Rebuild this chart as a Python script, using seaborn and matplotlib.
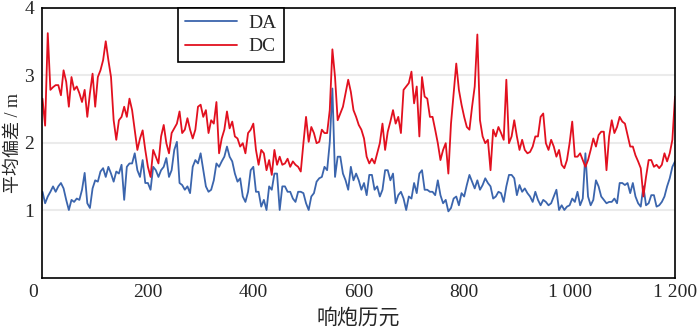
import numpy as np
import pandas as pd
import matplotlib
matplotlib.use("Agg")
import matplotlib.pyplot as plt
import matplotlib.transforms as mtransforms
import seaborn as sns

sns.set_style("white")
plt.rcParams['font.family'] = ['Liberation Serif', 'Noto Sans CJK SC']
fontsize = 14

# ----------------------------- data -----------------------------
epoch = np.arange(0, 1201, 5)

dc_0_285 = [2.65, 2.25, 3.62, 2.78, 2.82, 2.85, 2.85, 2.7, 3.07, 2.9,
            2.53, 2.97, 2.78, 2.83, 2.73, 2.6, 2.78, 2.38, 2.73, 3.02,
            2.53, 2.97, 3.07, 3.22, 3.5, 3.22, 2.97, 2.33, 2.04, 2.33,
            2.38, 2.53, 2.38, 2.65, 2.48, 2.18, 1.89, 2.06, 2.18, 1.89,
            1.64, 1.49, 1.89, 1.79, 1.69, 2.09, 2.26, 1.99, 1.84, 2.14,
            2.21, 2.28, 2.46, 2.14, 2.19, 2.36, 2.19, 2.06]
dc_290_590 = [2.19, 2.53, 2.56, 2.38, 2.48, 2.14, 2.33, 2.28, 2.6, 1.84,
              2.06, 2.19, 2.46, 2.21, 2.31, 2.09, 2.06, 1.94, 1.99, 1.84,
              2.14, 2.19, 2.28, 1.89, 1.67, 1.89, 1.84, 1.59, 1.74, 1.52,
              1.89, 1.67, 1.79, 1.67, 1.69, 1.76, 1.64, 1.72, 1.67, 1.64,
              1.57, 1.99, 2.38, 2.01, 2.23, 2.14, 1.99, 2.01, 2.19, 2.14,
              2.14, 2.48, 3.38, 2.97, 2.33, 2.43, 2.53, 2.73, 2.93, 2.75,
              2.48]
dc_595_895 = [2.38, 2.26, 2.19, 2.06, 1.79, 1.69, 1.76, 1.69, 1.84, 1.99,
              2.28, 1.89, 2.16, 2.31, 2.48, 2.28, 2.38, 2.14, 2.78, 2.83,
              2.88, 3.05, 2.58, 2.83, 2.09, 2.97, 2.68, 2.65, 2.38, 2.38,
              2.19, 1.99, 1.74, 1.89, 1.99, 1.54, 2.28, 2.73, 3.17, 2.78,
              2.56, 2.38, 2.23, 2.19, 2.53, 2.83, 3.6, 2.33, 2.09, 1.99,
              2.04, 1.59, 2.19, 2.09, 2.23, 2.14, 2.04, 2.93, 1.99, 2.09,
              2.33]
dc_900_1200 = [2.09, 1.89, 2.04, 1.89, 1.84, 1.86, 1.94, 2.09, 2.09, 2.38,
               2.43, 1.99, 1.89, 2.04, 1.94, 1.79, 1.89, 1.67, 1.62, 1.74,
               1.99, 2.31, 1.79, 1.79, 1.84, 1.74, 1.64, 1.74, 1.89, 2.06,
               1.94, 2.11, 2.16, 2.16, 1.59, 2.09, 2.33, 2.14, 2.23, 2.38,
               2.31, 2.28, 2.11, 1.94, 1.94, 1.81, 1.72, 1.62, 1.2, 1.49,
               1.74, 1.74, 1.64, 1.67, 1.62, 1.67, 1.84, 1.72, 1.84, 2.04,
               2.68]

da_0_285 = [1.27, 1.1, 1.2, 1.27, 1.35, 1.27, 1.35, 1.4, 1.32, 1.15,
            1.0, 1.15, 1.12, 1.17, 1.15, 1.3, 1.55, 1.1, 1.03, 1.32,
            1.44, 1.42, 1.57, 1.62, 1.49, 1.64, 1.54, 1.42, 1.57, 1.54,
            1.67, 1.15, 1.64, 1.69, 1.69, 1.84, 1.59, 1.49, 1.74, 1.4,
            1.4, 1.3, 1.64, 1.59, 1.49, 1.59, 1.64, 1.77, 1.49, 1.59,
            1.89, 2.01, 1.4, 1.37, 1.3, 1.35, 1.25, 1.64]
da_290_590 = [1.74, 1.69, 1.84, 1.59, 1.35, 1.27, 1.3, 1.44, 1.69, 1.64,
              1.72, 1.79, 1.94, 1.79, 1.72, 1.54, 1.42, 1.47, 1.2, 1.12,
              1.27, 1.59, 1.64, 1.27, 1.27, 1.05, 1.15, 1.0, 1.35, 1.3,
              1.54, 1.54, 1.0, 1.35, 1.35, 1.27, 1.27, 1.17, 1.12, 1.27,
              1.27, 1.25, 1.1, 1.0, 1.2, 1.25, 1.42, 1.47, 1.49, 1.64,
              1.59, 2.0, 2.8, 1.49, 1.79, 1.79, 1.54, 1.44, 1.3, 1.64,
              1.44]
da_595_895 = [1.54, 1.44, 1.3, 1.4, 1.22, 1.52, 1.52, 1.3, 1.35, 1.2,
              1.3, 1.59, 1.59, 1.44, 1.54, 1.1, 1.22, 1.27, 1.17, 1.0,
              1.2, 1.17, 1.4, 1.25, 1.54, 1.59, 1.3, 1.3, 1.27, 1.27,
              1.22, 1.44, 1.22, 1.1, 1.15, 0.98, 1.03, 1.17, 1.2, 1.07,
              1.25, 1.2, 1.37, 1.52, 1.42, 1.32, 1.44, 1.3, 1.37, 1.47,
              1.4, 1.35, 1.17, 1.2, 1.27, 1.25, 1.12, 1.35, 1.52, 1.52,
              1.47]
da_900_1200 = [1.22, 1.37, 1.27, 1.32, 1.25, 1.2, 1.12, 1.27, 1.15, 1.07,
               1.15, 1.12, 1.07, 1.1, 1.2, 1.3, 1.0, 1.07, 1.0, 1.05,
               1.07, 1.17, 1.12, 1.27, 1.07, 1.17, 1.84, 1.2, 1.07, 1.15,
               1.44, 1.35, 1.2, 1.15, 1.1, 1.12, 1.12, 1.17, 1.1, 1.4,
               1.4, 1.37, 1.4, 1.25, 1.4, 1.2, 1.1, 1.05, 1.35, 1.07,
               1.1, 1.22, 1.22, 1.05, 1.07, 1.12, 1.2, 1.35, 1.47, 1.64,
               1.72]

da = da_0_285 + da_290_590 + da_595_895 + da_900_1200
dc = dc_0_285 + dc_290_590 + dc_595_895 + dc_900_1200

xticks = [0, 200, 400, 600, 800, 1000, 1200]
xticklabels = ["0", "200", "400", "600", "800", "1 000", "1 200"]
yticks = [1, 2, 3, 4]

df = pd.DataFrame({
    "epoch": np.concatenate([epoch, epoch]),
    "value": da + dc,
    "series": ["DA"] * len(da) + ["DC"] * len(dc),
})

# ----------------------------- figure -----------------------------
fig = plt.figure(figsize=(7.0, 3.31), dpi=100)
ax = fig.add_axes([0.0607, 0.1616, 0.9036, 0.8157])

sns.lineplot(data=df, x="epoch", y="value", hue="series",
             palette={"DA": "#3b65ad", "DC": "#e2101f"},
             linewidth=1.3, ax=ax)

ax.set_xlim(0, 1200)
ax.set_ylim(0, 4)
ax.set_xticks(xticks)
ax.set_xticklabels(xticklabels, fontsize=fontsize)
ax.set_yticks(yticks)
ax.set_yticklabels([str(t) for t in yticks], fontsize=fontsize)
ax.tick_params(axis='x', direction='in', length=4, width=1, pad=5, color='black')
ax.tick_params(axis='y', length=0, pad=6)

# the "0" sits left of the origin in the reference
lbl0 = ax.get_xticklabels()[0]
lbl0.set_transform(lbl0.get_transform() + mtransforms.ScaledTranslation(-9 / 100, 0, fig.dpi_scale_trans))

ax.yaxis.grid(True, color='#ebebeb', linewidth=1.5)
ax.xaxis.grid(False)
ax.set_axisbelow(True)

cjk = ['Liberation Serif', 'Noto Sans CJK SC']
ax.set_xlabel("响炮历元", fontsize=15, family=cjk, labelpad=5)
ax.set_ylabel("平均偏差 / m", fontsize=13, family=cjk, labelpad=2)

for spine in ax.spines.values():
    spine.set_edgecolor('black')
    spine.set_linewidth(1.2)

handles, labels = ax.get_legend_handles_labels()
leg = ax.legend(handles, labels, loc='upper left', bbox_to_anchor=(0.214, 1.0),
                fontsize=fontsize, frameon=True, fancybox=False, framealpha=1,
                edgecolor='black', borderaxespad=0, handlelength=2.7,
                borderpad=0.35, labelspacing=0.3, handletextpad=0.6)
leg.get_frame().set_linewidth(1.2)

fig.savefig("out.png", dpi=100)
